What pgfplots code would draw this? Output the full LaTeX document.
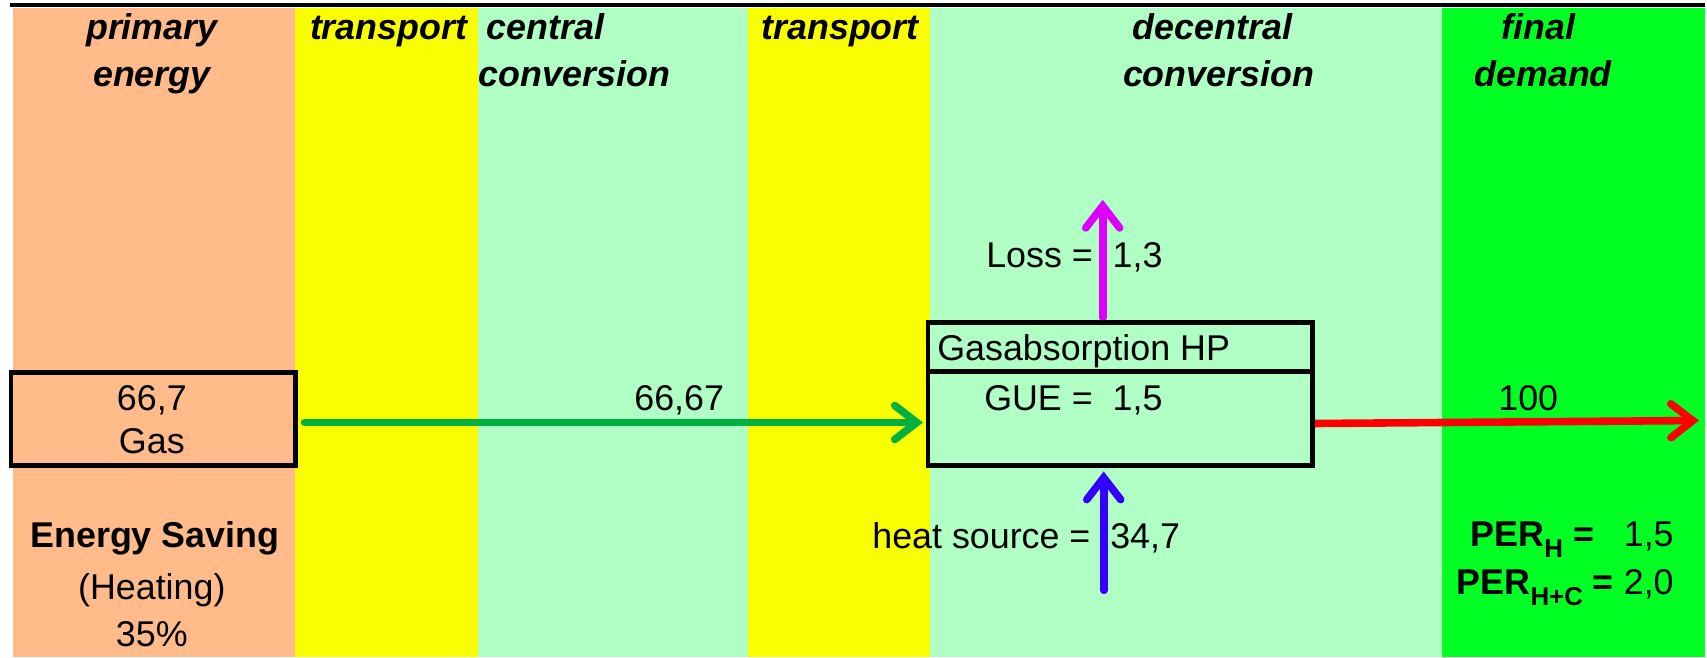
\documentclass[border=0pt]{standalone}
\usepackage{pgfplots}
\pgfplotsset{compat=1.18}
\usepackage{fontspec}
\setmainfont{Liberation Sans}
\usetikzlibrary{arrows.meta}
\definecolor{corange}{RGB}{255,187,138}
\definecolor{cyellow}{RGB}{250,255,0}
\definecolor{clgreen}{RGB}{176,255,196}
\definecolor{cgreen}{RGB}{0,255,34}
\definecolor{carrowg}{RGB}{0,176,64}
\definecolor{cmag}{RGB}{221,0,255}
\definecolor{cblue}{RGB}{51,0,255}
\newcommand{\sub}[1]{\raisebox{-0.3em}{\fontsize{13}{13}\selectfont\bfseries #1}}
\begin{document}
\begin{tikzpicture}
\begin{axis}[
  scale only axis, width=853.5bp, height=329bp,
  xmin=0, xmax=1707, ymin=0, ymax=658, y dir=reverse,
  hide axis, clip=false,
  arr/.style={line width=3.8bp, line cap=round, -{Straight Barb[length=11bp,width=17bp,line cap=round]}},
]
\addplot[draw=none, forget plot] coordinates {(0,0)(1707,658)};
% columns
\addplot[fill=corange, draw=none] coordinates {(13,8)(295,8)(295,658)(13,658)} -- cycle;
\addplot[fill=cyellow, draw=none] coordinates {(295,8)(479,8)(479,658)(295,658)} -- cycle;
\addplot[fill=clgreen, draw=none] coordinates {(479,8)(749,8)(749,658)(479,658)} -- cycle;
\addplot[fill=cyellow, draw=none] coordinates {(749,8)(931,8)(931,658)(749,658)} -- cycle;
\addplot[fill=clgreen, draw=none] coordinates {(931,8)(1444,8)(1444,658)(931,658)} -- cycle;
\addplot[fill=cgreen, draw=none] coordinates {(1444,8)(1707,8)(1707,658)(1444,658)} -- cycle;
% top line
\addplot[black, line width=2bp] coordinates {(10,5)(1707,5)};
% arrows
\addplot[carrowg, arr] coordinates {(305,423)(924,423)};
\addplot[red, arr] coordinates {(1316,424)(1701,421)};
\addplot[cmag, arr] coordinates {(1104,318)(1104,200)};
\addplot[cblue, arr] coordinates {(1105,591)(1105,472)};
% boxes
\addplot[black, line width=2.2bp] coordinates {(11,373)(296,373)(296,466)(11,466)} -- cycle;
\addplot[black, line width=2.4bp] coordinates {(929,323)(1314,323)(1314,466)(929,466)} -- cycle;
\addplot[black, line width=2.2bp] coordinates {(929,372)(1314,372)};
% headers (y = baseline)
\begin{scope}[every node/.append style={inner sep=0pt, font=\fontsize{18}{21.6}\selectfont\bfseries\itshape}]
\node[anchor=base] at (axis cs:152,40) {primary};
\node[anchor=base] at (axis cs:152,87) {energy};
\node[anchor=base west] at (axis cs:310,40) {transport};
\node[anchor=base west] at (axis cs:487,40) {central};
\node[anchor=base west] at (axis cs:479,87) {conversion};
\node[anchor=base west] at (axis cs:762,40) {transport};
\node[anchor=base] at (axis cs:1214,40) {decentral};
\node[anchor=base] at (axis cs:1220,87) {conversion};
\node[anchor=base] at (axis cs:1540,40) {final};
\node[anchor=base] at (axis cs:1545,87) {demand};
\end{scope}
\begin{scope}[every node/.append style={inner sep=0pt, font=\fontsize{18}{21.6}\selectfont}]
\node[anchor=base] at (axis cs:152,411) {66,7};
\node[anchor=base] at (axis cs:152,454) {Gas};
\node[anchor=base] at (axis cs:680,411) {66,67};
\node[anchor=base west] at (axis cs:938,361) {Gasabsorption HP};
\node[anchor=base west] at (axis cs:985,411) {GUE =\ \ 1,5};
\node[anchor=base west] at (axis cs:987,268) {Loss =\ \ 1,3};
\node[anchor=base] at (axis cs:1530,411) {100};
\node[anchor=base west] at (axis cs:873,549) {heat source =\ \ 34,7};
\node[anchor=base] at (axis cs:155,548) {\bfseries Energy Saving};
\node[anchor=base] at (axis cs:152,600) {(Heating)};
\node[anchor=base] at (axis cs:152,647) {35\%};
\node[anchor=base east] at (axis cs:1676,547) {\textbf{PER\sub{H} =}\ \ \ 1,5};
\node[anchor=base east] at (axis cs:1676,595) {\textbf{PER\sub{H+C} =} 2,0};
\end{scope}
\end{axis}
\end{tikzpicture}
\end{document}
